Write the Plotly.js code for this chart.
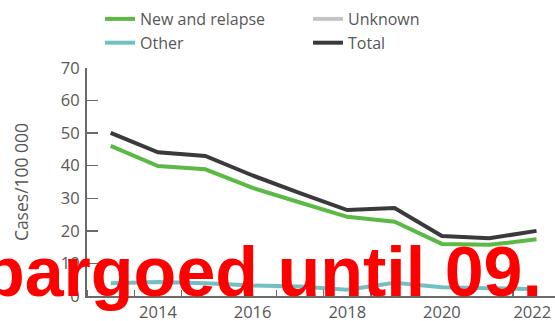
<!DOCTYPE html>
<html>
<head>
<meta charset="utf-8">
<script src="https://cdn.plot.ly/plotly-3.0.1.min.js"></script>
<style>html,body{margin:0;padding:0;background:#fff;}#chart{width:555px;height:321px;}</style>
</head>
<body>
<div id="chart"></div>
<script>
const years = [2013, 2014, 2015, 2016, 2017, 2018, 2019, 2020, 2021, 2022];
const newRelapse = [46.1, 39.9, 38.9, 33.2, 28.7, 24.3, 22.8, 16.0, 15.7, 17.4];
const unknown = [null, null, null, null, null, null, null, null, null, null];
const other = [3.9, 4.3, 3.9, 3.2, 2.9, 1.9, 4.1, 2.7, 2.4, 2.1];
const total = [50.1, 44.1, 43.0, 37.0, 31.6, 26.4, 27.0, 18.4, 17.7, 20.0];
const xTickVals = [2014, 2016, 2018, 2020, 2022];
const xTickText = ['2014', '2016', '2018', '2020', '2022\u00A0\u00A0'];
const yTickVals = [0, 10, 20, 30, 40, 50, 60, 70];
const watermark = 'Embargoed until 09.';

const font = 'Open Sans, sans-serif';
const txt = '#575757';
const mk = (name, y, color) => ({
  x: years, y: y, name: name, type: 'scatter', mode: 'lines',
  line: {color: color, width: 4}, connectgaps: false, cliponaxis: false
});
const data = [
  mk('New and relapse', newRelapse, '#5cb946'),
  mk('Unknown', unknown, '#c4c4c6'),
  mk('Other', other, '#72c0c4'),
  mk('Total', total, '#3a3a3a')
];
const layout = {
  width: 555, height: 321,
  margin: {l: 87, r: 0, t: 68, b: 25, pad: 0, autoexpand: false},
  paper_bgcolor: '#fff', plot_bgcolor: '#fff',
  font: {family: font, size: 16, color: txt},
  showlegend: true,
  legend: {orientation: 'h', xref: 'container', x: 100/555, xanchor: 'left',
    yref: 'container', y: 1 - 2/321, yanchor: 'top',
    entrywidth: 163, entrywidthmode: 'pixels', traceorder: 'normal',
    font: {family: font, size: 16, color: txt}, itemwidth: 30, tracegroupgap: 0,
    bgcolor: 'rgba(0,0,0,0)'},
  xaxis: {
    range: [2012.5, 2022.39], showgrid: false, zeroline: false,
    showline: true, linecolor: '#6a6a6a', linewidth: 2,
    tickvals: xTickVals, ticktext: xTickText, ticks: '', ticklabelstandoff: 0,
    ticklabeloverflow: 'allow',
    tickfont: {family: font, size: 16.5, color: txt},
    minor: {tick0: 2012.5, dtick: 1, ticks: 'inside', ticklen: 6, tickcolor: '#6a6a6a', tickwidth: 1.5, showgrid: false}
  },
  yaxis: {
    range: [0, 70], showgrid: false, zeroline: false,
    showline: true, linecolor: '#6a6a6a', linewidth: 2,
    tickvals: yTickVals, ticks: 'inside', ticklen: 11, tickcolor: '#6a6a6a', tickwidth: 1.5,
    ticklabelstandoff: 2,
    tickfont: {family: font, size: 16.5, color: txt},
    title: {text: 'Cases/100 000', font: {family: font, size: 17.5, color: txt}, standoff: 28}
  },
  annotations: [{
    text: watermark, xref: 'paper', yref: 'paper', x: 0, y: 0,
    xanchor: 'left', yanchor: 'bottom', xshift: -216, yshift: -17,
    showarrow: false,
    font: {family: 'Liberation Sans, Arial, sans-serif', size: 70, color: '#ff0000', weight: 'bold'}
  }]
};
Plotly.newPlot('chart', data, layout, {displayModeBar: false, staticPlot: true});
</script>
</body>
</html>
